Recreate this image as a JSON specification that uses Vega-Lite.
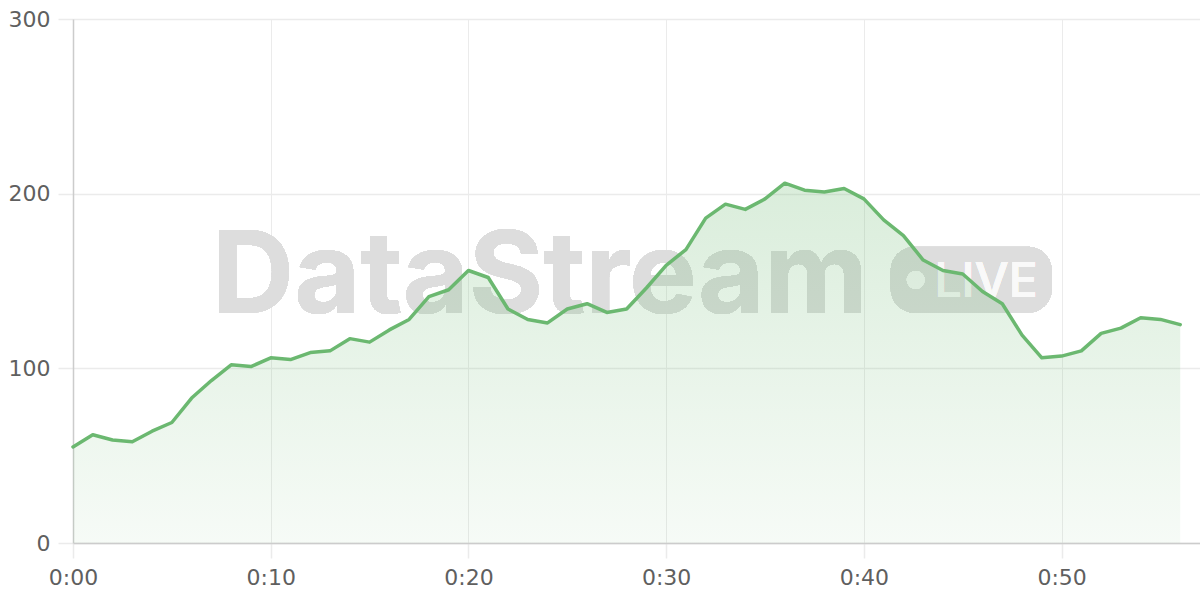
{
  "$schema": "https://vega.github.io/schema/vega-lite/v6.json",
  "width": 1127,
  "height": 524,
  "autosize": {"type": "none"},
  "padding": {"left": 73, "top": 19, "right": 0, "bottom": 57},
  "background": "white",
  "config": {"view": {"stroke": null}},
  "data": {
    "values": [
      {"t": 0, "v": 55}, {"t": 1, "v": 62}, {"t": 2, "v": 59}, {"t": 3, "v": 58},
      {"t": 4, "v": 64}, {"t": 5, "v": 69}, {"t": 6, "v": 83}, {"t": 7, "v": 93},
      {"t": 8, "v": 102}, {"t": 9, "v": 101}, {"t": 10, "v": 106}, {"t": 11, "v": 105},
      {"t": 12, "v": 109}, {"t": 13, "v": 110}, {"t": 14, "v": 117}, {"t": 15, "v": 115},
      {"t": 16, "v": 122}, {"t": 17, "v": 128}, {"t": 18, "v": 141}, {"t": 19, "v": 145},
      {"t": 20, "v": 156}, {"t": 21, "v": 152}, {"t": 22, "v": 134}, {"t": 23, "v": 128},
      {"t": 24, "v": 126}, {"t": 25, "v": 134}, {"t": 26, "v": 137}, {"t": 27, "v": 132},
      {"t": 28, "v": 134}, {"t": 29, "v": 146}, {"t": 30, "v": 159}, {"t": 31, "v": 168},
      {"t": 32, "v": 186}, {"t": 33, "v": 194}, {"t": 34, "v": 191}, {"t": 35, "v": 197},
      {"t": 36, "v": 206}, {"t": 37, "v": 202}, {"t": 38, "v": 201}, {"t": 39, "v": 203},
      {"t": 40, "v": 197}, {"t": 41, "v": 185}, {"t": 42, "v": 176}, {"t": 43, "v": 162},
      {"t": 44, "v": 156}, {"t": 45, "v": 154}, {"t": 46, "v": 144}, {"t": 47, "v": 137},
      {"t": 48, "v": 119}, {"t": 49, "v": 106}, {"t": 50, "v": 107}, {"t": 51, "v": 110},
      {"t": 52, "v": 120}, {"t": 53, "v": 123}, {"t": 54, "v": 129}, {"t": 55, "v": 128},
      {"t": 56, "v": 125}
    ]
  },
  "layer": [
    {
      "mark": {"type": "text", "text": "DataStream", "font": "Inter", "fontWeight": "bold", "fontSize": 114, "align": "center", "baseline": "alphabetic", "color": "#dddddd"},
      "encoding": {
        "x": {"datum": 23.62, "type": "quantitative"},
        "y": {"datum": 131.7, "type": "quantitative"}
      }
    },
    {
      "mark": {"type": "rect", "cornerRadius": 24, "color": "#dddddd"},
      "encoding": {
        "x": {"datum": 41.36, "type": "quantitative"},
        "x2": {"datum": 49.5},
        "y": {"datum": 169.6, "type": "quantitative"},
        "y2": {"datum": 131.8}
      }
    },
    {
      "mark": {"type": "point", "shape": "circle", "filled": true, "color": "#f9f9f9", "opacity": 1, "size": 320},
      "encoding": {
        "x": {"datum": 42.62, "type": "quantitative"},
        "y": {"datum": 150.6, "type": "quantitative"}
      }
    },
    {
      "mark": {"type": "text", "text": "LIVE", "font": "Inter", "fontWeight": 500, "fontSize": 48, "align": "center", "baseline": "alphabetic", "color": "#f9f9f9"},
      "encoding": {
        "x": {"datum": 46.18, "type": "quantitative"},
        "y": {"datum": 141.0, "type": "quantitative"}
      }
    },
    {
      "mark": {
        "type": "area",
        "color": {
          "gradient": "linear", "x1": 0, "y1": 0, "x2": 0, "y2": 1,
          "stops": [
            {"offset": 0, "color": "rgba(107,184,112,0.25)"},
            {"offset": 1, "color": "rgba(107,184,112,0.06)"}
          ]
        }
      },
      "encoding": {
        "x": {
          "field": "t", "type": "quantitative",
          "scale": {"domain": [0, 57], "nice": false, "zero": false},
          "axis": {
            "values": [0, 10, 20, 30, 40, 50],
            "labelExpr": "floor(datum.value/60) + ':' + (datum.value % 60 < 10 ? '0' : '') + (datum.value % 60)",
            "title": null,
            "labelFlush": false,
            "grid": true, "gridColor": "#ebebeb", "gridWidth": 1,
            "domainColor": "#cccccc", "domainWidth": 1.5,
            "tickColor": "#ebebeb", "tickSize": 15, "tickWidth": 1.5,
            "labelFont": "DejaVu Sans", "labelFontSize": 22, "labelColor": "#5f5f5f",
            "labelPadding": 9
          }
        },
        "y": {
          "field": "v", "type": "quantitative",
          "scale": {"domain": [0, 300], "nice": false},
          "axis": {
            "values": [0, 100, 200, 300],
            "title": null,
            "grid": true, "gridColor": "#ebebeb", "gridWidth": 1.5,
            "domainColor": "#cccccc", "domainWidth": 1.5,
            "tickColor": "#ebebeb", "tickSize": 15, "tickWidth": 1.5,
            "labelFont": "DejaVu Sans", "labelFontSize": 22, "labelColor": "#5f5f5f",
            "labelPadding": 8
          }
        }
      }
    },
    {
      "mark": {"type": "line", "color": "#6bb870", "strokeWidth": 3.5, "strokeJoin": "round", "strokeCap": "round"},
      "encoding": {
        "x": {"field": "t", "type": "quantitative"},
        "y": {"field": "v", "type": "quantitative"}
      }
    }
  ]
}
